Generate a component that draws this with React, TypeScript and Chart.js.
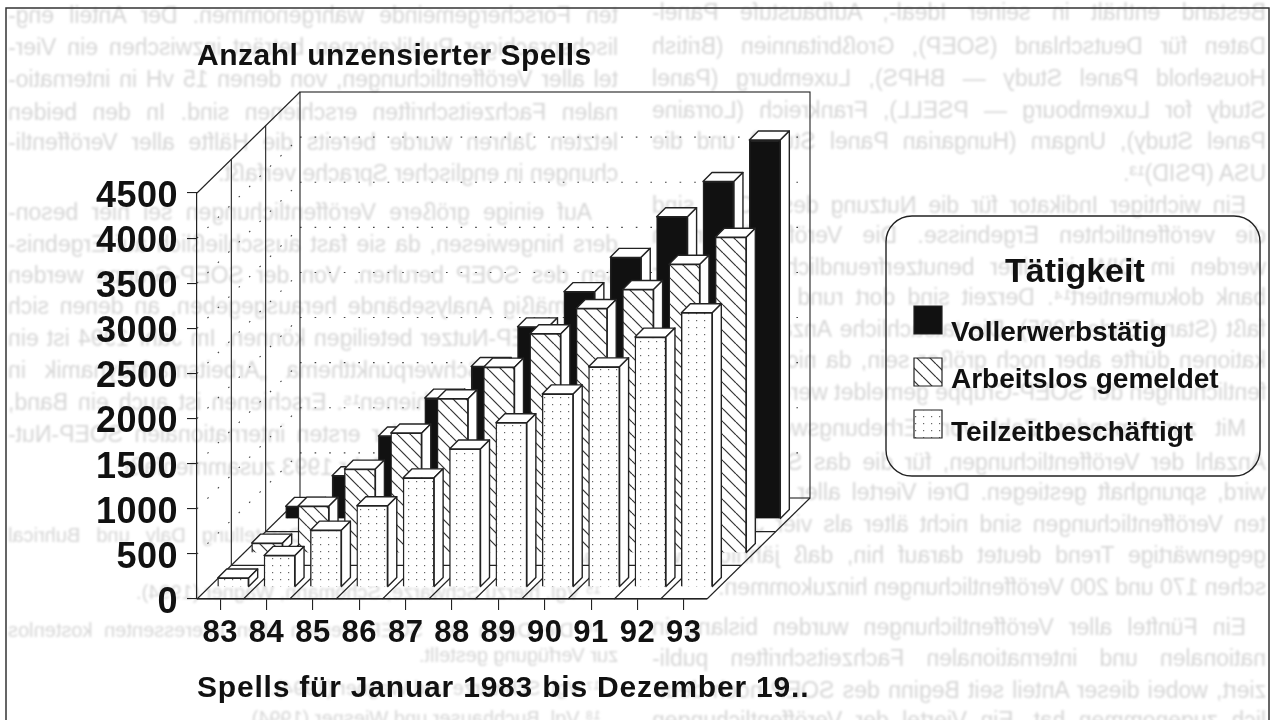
import React, { useEffect, useRef } from "react";
import { Chart, registerables } from "chart.js";

Chart.register(...registerables);

// ---- chart data ----
const years = ["83", "84", "85", "86", "87", "88", "89", "90", "91", "92", "93"];
const vollerwerbstaetig = [140, 480, 920, 1340, 1690, 2130, 2520, 2900, 3350, 3740, 4200];
const arbeitslos = [110, 520, 930, 1330, 1710, 2060, 2430, 2710, 2920, 3200, 3500];
const teilzeit = [100, 350, 630, 900, 1210, 1530, 1820, 2140, 2440, 2770, 3040];
const chartTitle = "Anzahl unzensierter Spells";
const xTitle = "Spells für Januar 1983 bis Dezember 19..";
const legendTitle = "Tätigkeit";
const seriesNames = ["Vollerwerbstätig", "Arbeitslos gemeldet", "Teilzeitbeschäftigt"];

// Faint print from the back of the scanned page, seen mirrored:
// [text, right edge, y, width (0 = natural width)]
const showThrough: [string, number, number, number][] = [
  ["ten Forschergemeinde wahrgenommen. Der Anteil eng-", 618, 15, 610],
  ["lischsprachiger Publikationen beträgt inzwischen ein Vier-", 618, 47, 610],
  ["tel aller Veröffentlichungen, von denen 15 vH in internatio-", 618, 79, 610],
  ["nalen Fachzeitschriften erschienen sind. In den beiden", 618, 112, 610],
  ["letzten Jahren wurde bereits die Hälfte aller Veröffentli-", 618, 142, 610],
  ["chungen in englischer Sprache verfaßt.", 618, 173, 0],
  ["Auf einige größere Veröffentlichungen sei hier beson-", 592, 212, 584],
  ["ders hingewiesen, da sie fast ausschließlich auf Ergebnis-", 618, 244, 610],
  ["sen des SOEP beruhen. Von der SOEP-Gruppe werden", 618, 275, 610],
  ["regelmäßig Analysebände herausgegeben, an denen sich", 618, 306, 610],
  ["auch SOEP-Nutzer beteiligen können. Im Jahr 1994 ist ein", 618, 338, 610],
  ["Band zum Schwerpunktthema „Arbeitsmarktdynamik in", 618, 370, 610],
  ["Deutschland“ erschienen¹⁵. Erschienen ist auch ein Band,", 618, 402, 610],
  ["der die Ergebnisse der ersten internationalen SOEP-Nut-", 618, 434, 610],
  ["zerkonferenz aus dem Jahr 1993 zusammenfaßt.", 618, 467, 0],
  ["Bestand enthält in seiner Ideal-, Aufbaustufe Panel-", 1266, 12, 614],
  ["Daten für Deutschland (SOEP), Großbritannien (British", 1266, 46, 614],
  ["Household Panel Study — BHPS), Luxemburg (Panel", 1266, 78, 614],
  ["Study for Luxembourg — PSELL), Frankreich (Lorraine", 1266, 110, 614],
  ["Panel Study), Ungarn (Hungarian Panel Study) und die", 1266, 141, 614],
  ["USA (PSID)¹³.", 1266, 173, 0],
  ["Ein wichtiger Indikator für die Nutzung des SOEP sind", 1246, 205, 594],
  ["die veröffentlichten Ergebnisse. Die Veröffentlichungen", 1266, 235, 614],
  ["werden im DIW in einer benutzerfreundlichen Literatur-", 1266, 267, 614],
  ["bank dokumentiert¹⁴. Derzeit sind dort rund 150 Titel er-", 1266, 297, 614],
  ["faßt (Stand Ende 1995). Die tatsächliche Anzahl der Publi-", 1266, 329, 614],
  ["kationen dürfte aber noch größer sein, da nicht alle Veröf-", 1266, 360, 614],
  ["fentlichungen der SOEP-Gruppe gemeldet werden.", 1266, 392, 0],
  ["Mit zunehmender Zahl von Erhebungswellen ist die", 1246, 428, 594],
  ["Anzahl der Veröffentlichungen, für die das SOEP genutzt", 1266, 462, 614],
  ["wird, sprunghaft gestiegen. Drei Viertel aller dokumentier-", 1266, 492, 614],
  ["ten Veröffentlichungen sind nicht älter als vier Jahre. Der", 1266, 524, 614],
  ["gegenwärtige Trend deutet darauf hin, daß jährlich zwi-", 1266, 555, 614],
  ["schen 170 und 200 Veröffentlichungen hinzukommen.", 1266, 587, 0],
  ["Ein Fünftel aller Veröffentlichungen wurden bislang in", 1246, 627, 594],
  ["nationalen und internationalen Fachzeitschriften publi-", 1266, 658, 614],
  ["ziert, wobei dieser Anteil seit Beginn des SOEP noch deut-", 1266, 690, 614],
  ["lich zugenommen hat. Ein Viertel der Veröffentlichungen", 1266, 720, 614],
];
// the page's footnotes, in smaller print
const showThroughNotes: [string, number, number, number][] = [
  ["¹³ Vgl. für eine ausführliche Darstellung Daly und Buhrical", 600, 535, 592],
  ["1994.", 618, 558, 0],
  ["¹⁵ Vgl. hierzu Schwarze, Schömann, Wagner (1994).", 600, 592, 0],
  ["¹⁶ Die Daten des SOEP werden allen Interessenten kostenlos", 600, 630, 592],
  ["zur Verfügung gestellt.", 618, 655, 0],
  ["¹⁷ Vgl. Schwarze und Wagner (1994).", 600, 688, 0],
  ["¹⁸ Vgl. Buchhauser und Wiesner (1994).", 600, 718, 0],
];

const FONT = '"Liberation Sans", Arial, sans-serif';
const INK = "#222";

function hatchPattern(ctx: CanvasRenderingContext2D) {
  const c = document.createElement("canvas");
  c.width = c.height = 13;
  const g = c.getContext("2d")!;
  g.fillStyle = "#fff";
  g.fillRect(0, 0, 13, 13);
  g.strokeStyle = "#333";
  g.lineWidth = 1.2;
  for (const o of [-13, 0, 13]) {
    g.beginPath();
    g.moveTo(o, 0);
    g.lineTo(o + 13, 13);
    g.stroke();
  }
  return ctx.createPattern(c, "repeat")!;
}

function dotPattern(ctx: CanvasRenderingContext2D) {
  const c = document.createElement("canvas");
  c.width = 8;
  c.height = 7;
  const g = c.getContext("2d")!;
  g.fillStyle = "#fff";
  g.fillRect(0, 0, 8, 7);
  g.fillStyle = "#666";
  g.fillRect(3, 3, 1.2, 1.2);
  return ctx.createPattern(c, "repeat")!;
}

// Depth of the 3D box, per row of bars and per bar
const ROW_SHIFT = [
  [81, -80],
  [47, -46],
  [13, -12],
];
const BAR_DEPTH = 9;
const WALL_DX = 103;
const WALL_DY = -101;

const poly = (ctx: CanvasRenderingContext2D, pts: number[][]) => {
  ctx.beginPath();
  pts.forEach(([x, y], i) => (i ? ctx.lineTo(x, y) : ctx.moveTo(x, y)));
  ctx.closePath();
  ctx.fill();
  ctx.stroke();
};

const stage3d = {
  id: "stage3d",
  beforeDraw(chart: any) {
    chart.ctx.letterSpacing = "0.5px";
  },
  beforeDatasetsDraw(chart: any) {
    const { ctx, chartArea: a, scales } = chart;
    const y = scales.y;
    ctx.save();
    ctx.strokeStyle = INK;
    ctx.lineWidth = 1.1;
    const line = (x1: number, y1: number, x2: number, y2: number) => {
      ctx.beginPath();
      ctx.moveTo(x1, y1);
      ctx.lineTo(x2, y2);
      ctx.stroke();
    };
    // dotted gridlines on side wall and back wall
    ctx.save();
    ctx.setLineDash([1.6, 13]);
    ctx.strokeStyle = "#444";
    for (const t of y.ticks) {
      if (t.value === 0 || t.value === 4500) continue;
      const py = y.getPixelForValue(t.value);
      line(a.left, py, a.left + WALL_DX, py + WALL_DY);
      line(a.left + WALL_DX, py + WALL_DY, a.right + WALL_DX, py + WALL_DY);
    }
    ctx.restore();
    // back wall
    ctx.strokeRect(a.left + WALL_DX, a.top + WALL_DY, a.right - a.left, a.bottom - a.top);
    // side wall
    line(a.left, a.top, a.left + WALL_DX, a.top + WALL_DY);
    for (const f of [1 / 3, 2 / 3]) {
      const dx = WALL_DX * f;
      const dy = WALL_DY * f;
      line(a.left + dx, a.top + dy, a.left + dx, a.bottom + dy);
      line(a.left + dx, a.bottom + dy, a.right + dx, a.bottom + dy);
    }
    // floor
    const n = years.length;
    const step = (a.right - a.left) / n;
    for (let i = 0; i <= n; i++) {
      const fx = a.left + i * step;
      line(fx, a.bottom, fx + WALL_DX, a.bottom + WALL_DY);
    }
    line(a.left, a.bottom, a.right, a.bottom);
    ctx.restore();
  },
  beforeDatasetDraw(chart: any, args: any) {
    const { ctx } = chart;
    const meta = args.meta;
    const [sx, sy] = ROW_SHIFT[args.index];
    ctx.save();
    ctx.translate(sx, sy);
    ctx.fillStyle = "#fff";
    ctx.strokeStyle = INK;
    ctx.lineWidth = 1.4;
    ctx.lineJoin = "round";
    const d = BAR_DEPTH;
    for (const el of meta.data) {
      const l = el.x - el.width / 2;
      const r = el.x + el.width / 2;
      poly(ctx, [[l, el.y], [l + d, el.y - d], [r + d, el.y - d], [r, el.y]]);
      poly(ctx, [[r, el.y], [r + d, el.y - d], [r + d, el.base - d], [r, el.base]]);
    }
  },
  afterDatasetDraw(chart: any) {
    chart.ctx.restore();
  },
  afterDraw(chart: any) {
    const { ctx } = chart;
    ctx.save();
    // page frame
    ctx.strokeStyle = "#333";
    ctx.lineWidth = 1.5;
    ctx.strokeRect(6, 8, 1263, 740);
    ctx.fillStyle = "#111";
    ctx.textBaseline = "middle";
    ctx.textAlign = "left";
    // x axis title
    ctx.font = `bold 30px ${FONT}`;
    ctx.letterSpacing = "0.8px";
    ctx.fillText(xTitle, 197, 689);
    // legend
    ctx.strokeStyle = INK;
    ctx.lineWidth = 1.4;
    ctx.beginPath();
    ctx.roundRect(886, 216, 374, 260, 26);
    ctx.stroke();
    ctx.font = `bold 34px ${FONT}`;
    ctx.letterSpacing = "0px";
    ctx.fillText(legendTitle, 1005, 273);
    const rows = [
      { top: 306, text: 333 },
      { top: 358, text: 380 },
      { top: 410, text: 433 },
    ];
    ctx.font = `bold 28px ${FONT}`;
    chart.data.datasets.forEach((ds: any, i: number) => {
      ctx.fillStyle = ds.backgroundColor;
      ctx.lineWidth = 1.2;
      ctx.beginPath();
      ctx.rect(914, rows[i].top, 28, 28);
      ctx.fill();
      ctx.stroke();
      ctx.fillStyle = "#111";
      ctx.fillText(ds.label, 951, rows[i].text);
    });
    ctx.restore();
  },
};

export default function App() {
  const ref = useRef<HTMLCanvasElement>(null);
  useEffect(() => {
    document.body.style.margin = "0";
    document.body.style.background = "#fff";
    const ctx = ref.current!.getContext("2d")!;
    const base = {
      type: "bar",
      grouped: false,
      barThickness: 31,
      borderColor: INK,
      borderWidth: 1.4,
      clip: false,
    };
    const chart = new Chart(ctx, {
      type: "bar",
      data: {
        labels: years,
        datasets: [
          { ...base, label: seriesNames[0], data: vollerwerbstaetig, backgroundColor: "#111", order: 3 },
          { ...base, label: seriesNames[1], data: arbeitslos, backgroundColor: hatchPattern(ctx), order: 2 },
          { ...base, label: seriesNames[2], data: teilzeit, backgroundColor: dotPattern(ctx), order: 1 },
        ],
      } as any,
      plugins: [stage3d],
      options: {
        animation: false,
        responsive: false,
        layout: { padding: { left: 0, right: 565, top: 0, bottom: 0 } },
        plugins: {
          legend: { display: false },
          tooltip: { enabled: false },
          title: {
            display: true,
            text: chartTitle,
            align: "start",
            fullSize: false,
            color: "#111",
            font: { family: FONT, size: 30, weight: "bold", lineHeight: 1.2 },
            padding: { top: 39, bottom: 118 },
          },
        },
        scales: {
          x: {
            grid: { drawOnChartArea: false, offset: false, tickLength: 11, color: INK, lineWidth: 1.1 },
            border: { display: true, color: INK, width: 1.2 },
            ticks: {
              color: "#111",
              font: { family: FONT, size: 31, weight: "bold" },
              padding: 5,
              maxRotation: 0,
              autoSkip: false,
            },
            afterFit: (s: any) => { s.height = 121; },
          },
          y: {
            min: 0,
            max: 4500,
            grid: { drawOnChartArea: false, tickLength: 10, color: INK, lineWidth: 1.1 },
            border: { display: true, color: INK, width: 1.2 },
            ticks: {
              stepSize: 500,
              autoSkip: false,
              color: "#111",
              font: { family: FONT, size: 36, weight: "bold" },
              padding: 9,
              labelOffset: 4,
              callback: (v: any) => String(v),
            },
            afterFit: (s: any) => { s.width = 197; },
          },
        },
      },
    } as any);
    return () => chart.destroy();
  }, []);

  const behind = (rows: [string, number, number, number][], size: number) =>
    rows.map(([text, right, y, w]) => (
      <div
        key={`${right}-${y}`}
        style={{
          position: "absolute",
          right: 1272 - right,
          top: y - 13,
          width: w || undefined,
          whiteSpace: "nowrap",
          textAlign: "justify",
          textAlignLast: w ? "justify" : "left",
          font: `${size}px/26px ${FONT}`,
          color: "#d6d6d6",
          filter: "blur(0.9px)",
          transform: "scaleX(-1)",
        }}
      >
        {text}
      </div>
    ));

  return (
    <div style={{ position: "relative", width: 1272, height: 720, overflow: "hidden", background: "#fff" }}>
      {behind(showThrough, 23)}
      {behind(showThroughNotes, 20)}
      <canvas
        ref={ref}
        width={1272}
        height={720}
        style={{ position: "absolute", left: 0, top: 0, display: "block", filter: "blur(0.4px)" }}
      />
    </div>
  );
}
